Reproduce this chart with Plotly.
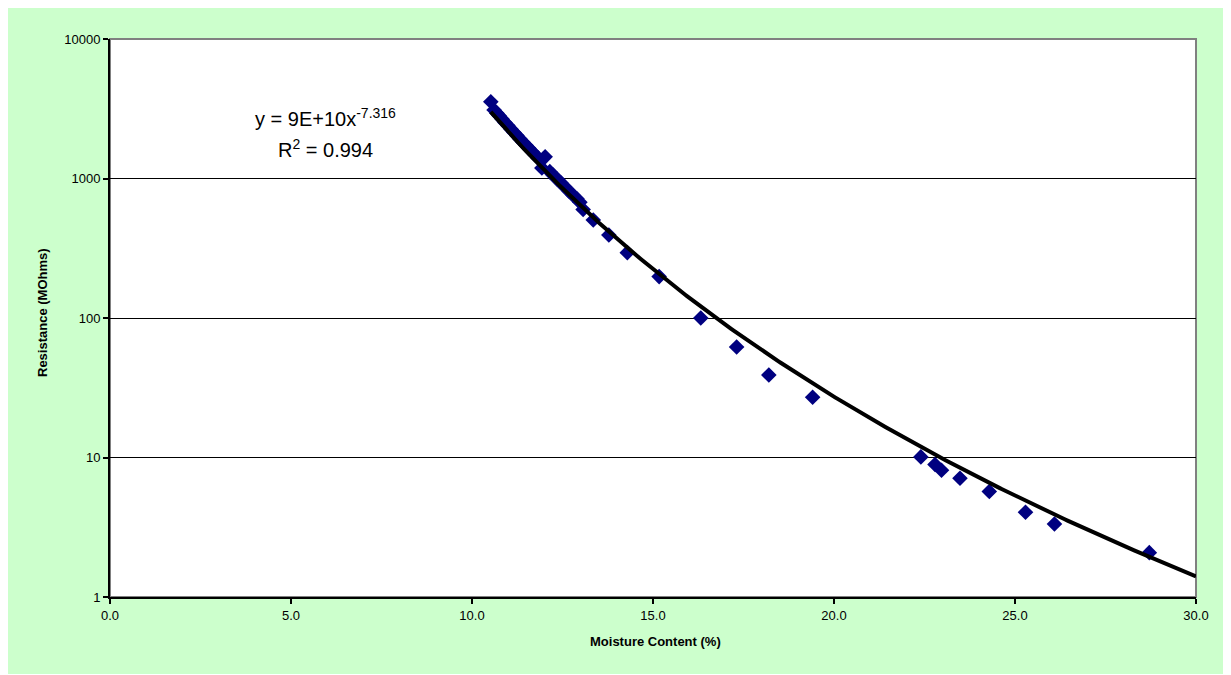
import numpy as np
import plotly.graph_objects as go

moisture = [10.52, 10.61, 10.69, 10.75, 10.83, 10.91, 10.99, 11.08, 11.16, 11.24,
            11.33, 11.41, 11.49, 11.57, 11.66, 11.74, 11.82, 12.02, 11.93, 12.15,
            12.24, 12.35, 12.46, 12.57, 12.68, 12.79, 12.90, 12.98, 13.07, 13.35,
            13.78, 14.29, 15.17, 16.32, 17.31, 18.20, 19.41, 22.40, 22.79, 22.97,
            23.48, 24.29, 25.29, 26.09, 28.71]
resistance = [3550, 3100, 2930, 2815, 2665, 2525, 2395, 2255, 2140, 2030,
              1915, 1820, 1730, 1645, 1555, 1480, 1410, 1430, 1190, 1120,
              1060, 990, 930, 870, 810, 760, 715, 675, 600, 504,
              394, 294, 198, 100, 62, 39, 27, 10.1, 8.9, 8.1,
              7.1, 5.7, 4.05, 3.34, 2.08]

# Power trendline coefficients as displayed on the chart
TREND_A = 9e10
TREND_B = -7.316
R2 = 0.994
trend_x = np.linspace(min(moisture), 30.0, 400)
trend_y = TREND_A * trend_x ** TREND_B

x_ticks = [0, 5, 10, 15, 20, 25, 30]
y_ticks = [1, 10, 100, 1000, 10000]

FONT = "Liberation Sans, Arial, sans-serif"

fig = go.Figure()
fig.add_trace(go.Scatter(
    x=moisture, y=resistance, mode="markers",
    marker=dict(symbol="diamond", size=12, color="#000080",
                line=dict(width=0)),
    showlegend=False))
fig.add_trace(go.Scatter(
    x=trend_x, y=trend_y, mode="lines",
    line=dict(color="black", width=4),
    showlegend=False, hoverinfo="skip"))

# page has an 8px body margin: figure coords = page coords - 8
OFF = 8
W, H = 1231, 675
PL, PR, PT, PB = 110, 1196, 39, 597  # plot area edges in page pixels
L, T = PL - OFF, PT - OFF
R = W - (PR - OFF)
B = H - (PB - OFF)
pw, ph = PR - PL, PB - PT

def px2paper_x(px):
    return (px - PL) / pw

def px2paper_y(py):
    return (PB - py) / ph

shapes = [
    dict(type="rect", xref="paper", yref="paper", layer="below",
         x0=px2paper_x(6), x1=px2paper_x(1240), y0=px2paper_y(674), y1=px2paper_y(5),
         fillcolor="#CCFFCC", line=dict(width=0)),
    dict(type="rect", xref="paper", yref="paper", layer="below",
         x0=0, x1=1, y0=0, y1=1,
         fillcolor="white", line=dict(color="#808080", width=2)),
]

annotations = [
    dict(xref="paper", yref="paper", x=px2paper_x(325), y=px2paper_y(118),
         text="y = 9E+10x<sup>-7.316</sup>", showarrow=False,
         font=dict(family=FONT, size=20, color="black"), xanchor="center", yanchor="middle"),
    dict(xref="paper", yref="paper", x=px2paper_x(325), y=px2paper_y(148),
         text="R<sup>2</sup> = %.3f" % R2, showarrow=False,
         font=dict(family=FONT, size=20, color="black"), xanchor="center", yanchor="middle"),
    dict(xref="paper", yref="paper", x=px2paper_x(655), y=px2paper_y(641),
         text="<b>Moisture Content (%)</b>", showarrow=False,
         font=dict(family=FONT, size=13, color="black"), xanchor="center", yanchor="middle"),
    dict(xref="paper", yref="paper", x=px2paper_x(42), y=px2paper_y(312),
         text="<b>Resistance (MOhms)</b>", showarrow=False, textangle=-90,
         font=dict(family=FONT, size=13, color="black"), xanchor="center", yanchor="middle"),
]

fig.update_layout(
    width=W, height=H,
    margin=dict(l=L, r=R, t=T, b=B),
    paper_bgcolor="white", plot_bgcolor="rgba(0,0,0,0)",
    font=dict(family=FONT, size=13, color="black"),
    shapes=shapes, annotations=annotations,
    xaxis=dict(range=[0, 30], tickvals=x_ticks,
               ticktext=["%.1f" % v for v in x_ticks],
               showgrid=False, zeroline=False,
               showline=True, linecolor="black", linewidth=2,
               ticks="outside", ticklen=5, tickwidth=2, tickcolor="black",
               tickfont=dict(family=FONT, size=13, color="black")),
    yaxis=dict(type="log", range=[0, 4], tickvals=y_ticks,
               ticktext=[str(v) for v in y_ticks],
               showgrid=True, gridcolor="black", gridwidth=1, zeroline=False,
               showline=True, linecolor="black", linewidth=2,
               ticks="outside", ticklen=5, tickwidth=2, tickcolor="black",
               tickfont=dict(family=FONT, size=13, color="black")),
)

fig.write_html("out.html")
